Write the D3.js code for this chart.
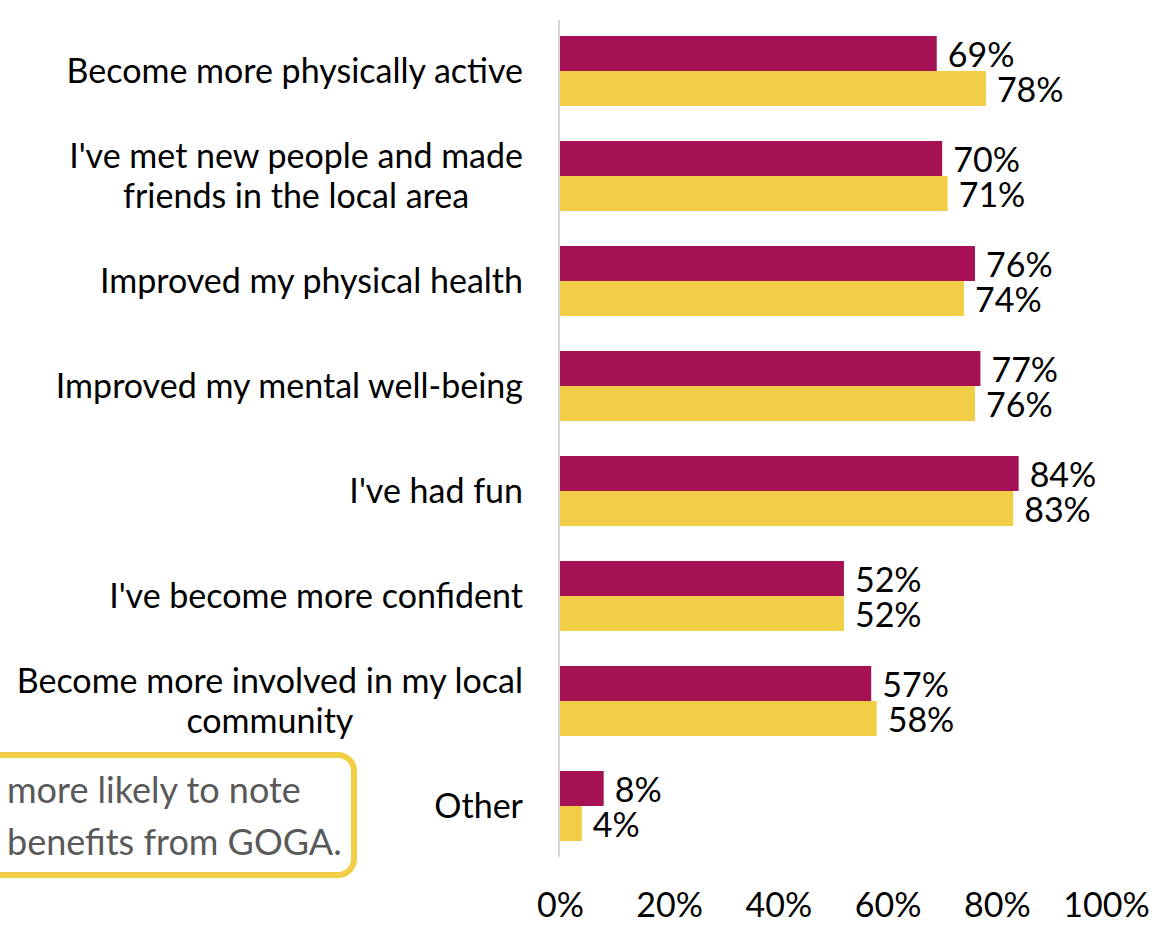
<!DOCTYPE html>
<html>
<head>
<meta charset="utf-8">
<script src="https://cdn.jsdelivr.net/npm/d3@7"></script>
<style>
  html, body { margin: 0; padding: 0; background: #fff; }
  svg { display: block; }
  text { font-family: Lato, "Open Sans", sans-serif; }
</style>
</head>
<body>
<svg id="chart" width="1166" height="938"></svg>
<script>
// Benefits reported, two respondent groups
const categories = [
  "Become more physically active",
  "I've met new people and made friends in the local area",
  "Improved my physical health",
  "Improved my mental well-being",
  "I've had fun",
  "I've become more confident",
  "Become more involved in my local community",
  "Other"
];
const categoryLines = [
  ["Become more physically active"],
  ["I've met new people and made", "friends in the local area"],
  ["Improved my physical health"],
  ["Improved my mental well-being"],
  ["I've had fun"],
  ["I've become more confident"],
  ["Become more involved in my local", "community"],
  ["Other"]
];
const groupA = [69, 70, 76, 77, 84, 52, 57, 8];
const groupB = [78, 71, 74, 76, 83, 52, 58, 4];
const xTicks = [0, 20, 40, 60, 80, 100];
const calloutLines = ["more likely to note", "benefits from GOGA."];

const colorA = "#A51154";
const colorB = "#F2CE46";

const svg = d3.select("#chart");
const plotLeft = 560, plotRight = 1106, plotTop = 18.5, plotBottom = 858.5;

const x = d3.scaleLinear().domain([0, 100]).range([plotLeft, plotRight]);
const y = d3.scaleBand().domain(categories).range([plotTop, plotBottom]).paddingInner(1/3).paddingOuter(1/6);
const sub = d3.scaleBand().domain(["A", "B"]).range([0, y.bandwidth()]);

// vertical baseline
svg.append("line")
  .attr("x1", x(0) - 1).attr("x2", x(0) - 1)
  .attr("y1", 20).attr("y2", 857)
  .attr("stroke", "#D9D9D9").attr("stroke-width", 2);

const rows = categories.map((c, i) => ({ c, i, a: groupA[i], b: groupB[i] }));

const g = svg.append("g");
const row = g.selectAll("g.row").data(rows).join("g").attr("class", "row")
  .attr("transform", d => `translate(0,${y(d.c)})`);

row.append("rect")
  .attr("x", x(0)).attr("y", sub("A"))
  .attr("width", d => x(d.a) - x(0)).attr("height", sub.bandwidth())
  .attr("fill", colorA);
row.append("rect")
  .attr("x", x(0)).attr("y", sub("B"))
  .attr("width", d => x(d.b) - x(0)).attr("height", sub.bandwidth())
  .attr("fill", colorB);

const labelSize = 34;
row.append("text")
  .attr("x", d => x(d.a) + 11).attr("y", sub("A") + sub.bandwidth() / 2 + 13)
  .attr("font-size", labelSize).attr("fill", "#000")
  .text(d => d.a + "%");
row.append("text")
  .attr("x", d => x(d.b) + 11).attr("y", sub("B") + sub.bandwidth() / 2 + 13)
  .attr("font-size", labelSize).attr("fill", "#000")
  .text(d => d.b + "%");

// category labels: centred lines, block right-aligned to the axis
row.each(function (d) {
  const lines = categoryLines[d.i];
  const grp = d3.select(this).append("g");
  const lh = 40;
  const cy = y.bandwidth() / 2;
  const texts = grp.selectAll("text").data(lines).join("text")
    .attr("font-size", labelSize).attr("fill", "#000")
    .attr("y", (l, k) => cy + (k - (lines.length - 1) / 2) * lh + 12)
    .text(l => l);
  const widths = texts.nodes().map(n => n.getComputedTextLength());
  const maxW = d3.max(widths);
  const rightEdge = 523;
  texts.attr("text-anchor", "middle").attr("x", rightEdge - maxW / 2);
});

// x axis tick labels
const axis = d3.axisBottom(x).tickValues(xTicks).tickFormat(v => v + "%").tickSize(0).tickPadding(0);
const ax = svg.append("g").attr("transform", "translate(0,890)").call(axis);
ax.select(".domain").remove();
ax.selectAll("text").attr("font-size", labelSize).attr("fill", "#000")
  .attr("font-family", "Lato, 'Open Sans', sans-serif").attr("dy", "0.8em");

// callout box
svg.append("rect")
  .attr("x", -40).attr("y", 755).attr("width", 394).attr("height", 120)
  .attr("rx", 16).attr("ry", 16)
  .attr("fill", "#fff").attr("stroke", "#F2CE46").attr("stroke-width", 6);
svg.append("g").selectAll("text").data(calloutLines).join("text")
  .attr("x", 7).attr("y", (l, k) => 803 + k * 52)
  .attr("font-size", 36).attr("fill", "#595959")
  .text(l => l);
</script>
</body>
</html>
